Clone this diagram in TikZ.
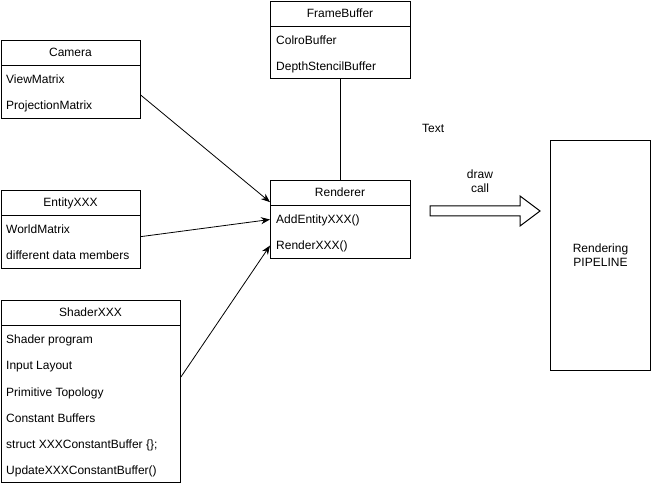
\documentclass[tikz,border=0pt]{standalone}
\usepackage{fontspec}
\setmainfont{Liberation Sans}
\usetikzlibrary{arrows.meta,calc}
\tikzset{
  classbox/.style={draw,line width=1pt,inner sep=0pt,anchor=north west},
  headtxt/.style={font=\fontsize{12}{14}\selectfont},
  classhead/.style={headtxt,inner sep=0pt,text height=10pt,text depth=2pt},
  member/.style={anchor=west,inner sep=0pt,text height=11pt,text depth=1pt,
    font=\fontsize{12}{14}\selectfont},
  divider/.style={line width=1pt},
  link/.style={-{Stealth[length=9pt,width=7pt]},line width=0.8pt}
}

\begin{document}
\begin{tikzpicture}[x=1pt,y=-1pt]
    \useasboundingbox (0,0) rectangle (651,486);
    % Camera
    \node[classbox,minimum width=139pt,minimum height=78pt] (camera) at (1,40) {};
    \node[classhead] (camerahead) at (70.5,53) {Camera};
    \draw[divider] (1,66) -- (140,66);
    \node[member] (camview) at (6,79) {ViewMatrix};
    \node[member] (camproj) at (6,105) {ProjectionMatrix};
    % FrameBuffer
    \node[classbox,minimum width=140pt,minimum height=77pt] (framebuffer) at (270,1) {};
    \node[classhead] (framehead) at (340,14) {FrameBuffer};
    \draw[divider] (270,27) -- (410,27);
    \node[member] (framecolor) at (276,40) {ColroBuffer};
    \node[member] (framedepth) at (276,66) {DepthStencilBuffer};
    % EntityXXX
    \node[classbox,minimum width=139pt,minimum height=78pt] (entity) at (1,190) {};
    \node[classhead] (entityhead) at (70.5,203) {EntityXXX};
    \draw[divider] (1,216) -- (140,216);
    \node[member] (entityworld) at (6,229) {WorldMatrix};
    \node[member] (entitydata) at (6,255) {different data members};
    % Renderer
    \node[classbox,minimum width=140pt,minimum height=78pt] (renderer) at (270,180) {};
    \node[classhead] (rendererhead) at (340,193) {Renderer};
    \draw[divider] (270,206) -- (410,206);
    \node[member] (rendadd) at (276,219) {AddEntityXXX()};
    \node[member] (rendrender) at (276,245) {RenderXXX()};
    % ShaderXXX
    \node[classbox,minimum width=179pt,minimum height=182pt] (shader) at (1,300) {};
    \node[classhead] (shaderhead) at (90.5,313) {ShaderXXX};
    \draw[divider] (1,326) -- (180,326);
    \node[member] (shprog) at (6,339) {Shader program};
    \node[member] (shlayout) at (6,365) {Input Layout};
    \node[member] (shtopo) at (6,391) {Primitive Topology};
    \node[member] (shcbuf) at (6,417) {Constant Buffers};
    \node[member] (shstruct) at (6,443) {struct XXXConstantBuffer \{\};};
    \node[member] (shupdate) at (6,469) {UpdateXXXConstantBuffer()};
    % pipeline
    \node[classbox,minimum width=100pt,minimum height=230pt] (pipeline) at (550,140) {};
    \node[headtxt,align=center] (pipelinetxt) at (pipeline.center) {Rendering\\PIPELINE};
    \node[member] (textlbl) at (422,128) {Text};
    \node[headtxt,align=center] (drawcall) at (480,181) {draw\\call};
    \draw[line width=1pt] (430,206) -- (520,206) -- (520,196) -- (540,211)
      -- (520,226) -- (520,216) -- (430,216) -- cycle;
    % connectors
    \draw[line width=0.8pt] (framebuffer.south) -- (renderer.north);
    \draw[link] ($(camera.north east)!0.7!(camera.south east)$)
      -- ($(renderer.north west)!0.28!(renderer.south west)$);
    \draw[link] ($(entity.north east)!0.59!(entity.south east)$) -- (renderer.west);
    \draw[link] ($(shader.north east)!0.42!(shader.south east)$)
      -- ($(renderer.north west)!0.83!(renderer.south west)$);
\end{tikzpicture}
\end{document}
